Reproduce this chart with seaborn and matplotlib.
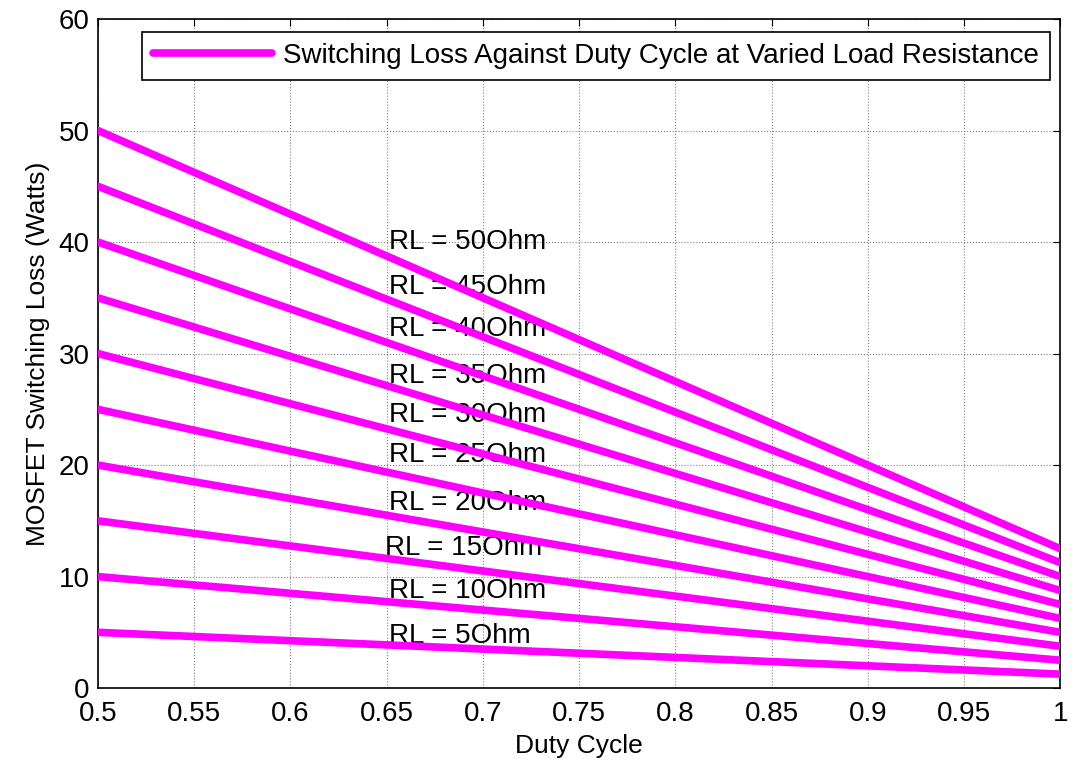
import matplotlib
matplotlib.use("Agg")
import matplotlib.pyplot as plt
import seaborn as sns
import numpy as np
import pandas as pd

# Duty cycle range and load resistances
duty = [0.5, 0.6, 0.7, 0.8, 0.9, 1.0]
resistances = [5, 10, 15, 20, 25, 30, 35, 40, 45, 50]
# switching loss at each end of the duty range, per resistance
loss_start = [5, 10, 15, 20, 25, 30, 35, 40, 45, 50]
loss_end = [1.25, 2.5, 3.75, 5, 6.25, 7.5, 8.75, 10, 11.25, 12.5]

# label positions (x, y) for the RL annotations
label_x = [0.651, 0.651, 0.649, 0.651, 0.651, 0.651, 0.651, 0.651, 0.651, 0.651]
label_y = [4.7, 8.7, 12.6, 16.6, 20.9, 24.5, 28.0, 32.2, 36.0, 40.0]

rows = []
for r, a, b in zip(resistances, loss_start, loss_end):
    for d in duty:
        rows.append({"duty": d, "loss": a + (b - a) * (d - 0.5) / 0.5, "R": r})
df = pd.DataFrame(rows)

sns.set_style("white")
plt.rcParams['font.family'] = ['Liberation Sans', 'DejaVu Sans']
plt.rcParams['text.color'] = 'black'
plt.rcParams['axes.labelcolor'] = 'black'

fig, ax = plt.subplots(figsize=(10.72, 7.62), dpi=100)
fig.subplots_adjust(left=0.0914, right=0.989, top=0.975, bottom=0.097)

FS = 20

for i, r in enumerate(resistances):
    sub = df[df["R"] == r]
    sns.lineplot(data=sub, x="duty", y="loss", ax=ax, color="#ff00ff", lw=5.5,
                 label="Switching Loss Against Duty Cycle at Varied Load Resistance" if i == 0 else None,
                 zorder=3)

for r, x, y in zip(resistances, label_x, label_y):
    ax.text(x, y, "RL = %dOhm" % r, fontsize=FS, va="center", ha="left", zorder=2, color="black")

ax.set_xlim(0.5, 1.0)
ax.set_ylim(0, 60)
ax.set_xticks([0.5, 0.55, 0.6, 0.65, 0.7, 0.75, 0.8, 0.85, 0.9, 0.95, 1.0])
ax.set_xticklabels(["0.5", "0.55", "0.6", "0.65", "0.7", "0.75", "0.8", "0.85", "0.9", "0.95", "1"])
ax.set_yticks(range(0, 61, 10))
ax.tick_params(direction="in", length=5, labelsize=FS, top=True, right=True, colors="black")
ax.tick_params(axis="x", pad=9)
ax.tick_params(axis="y", pad=6)
ax.grid(True, color="gray", linestyle=":", linewidth=0.8)
for s in ax.spines.values():
    s.set_color("black")
    s.set_linewidth(1.2)
ax.set_xlabel("Duty Cycle", fontsize=19, labelpad=5)
ax.set_ylabel("MOSFET Switching Loss (Watts)", fontsize=19, labelpad=6)

leg = ax.legend(loc="upper right", fontsize=FS, fancybox=False, framealpha=1,
                edgecolor="black", handlelength=4.3, handletextpad=0.4,
                borderpad=0.4, borderaxespad=0, bbox_to_anchor=(0.9896, 0.981))
leg.get_frame().set_linewidth(1.2)
for t in leg.get_texts():
    t.set_color("black")

plt.savefig("out.png")
